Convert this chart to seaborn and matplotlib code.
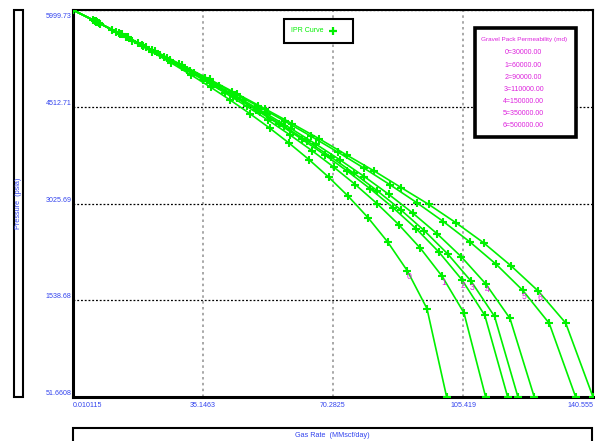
import numpy as np
import pandas as pd
import matplotlib
matplotlib.use("Agg")
import matplotlib.pyplot as plt
from matplotlib.patches import Rectangle
from matplotlib.lines import Line2D
import matplotlib.transforms as mtransforms
import seaborn as sns

sns.set_style("white")
plt.rcParams['font.family'] = ['Liberation Sans Narrow', 'Liberation Sans', 'DejaVu Sans']

# ---------------- data ----------------
curve_ids = ["0", "1", "2", "3", "4", "5", "6"]
perm_labels = ["0=30000.00", "1=60000.00", "2=90000.00", "3=110000.00",
               "4=150000.00", "5=350000.00", "6=500000.00"]

q0 = [0.010115, 5.32, 10.63, 15.95, 21.26, 26.58, 31.89, 37.21, 42.53, 47.84,
      53.16, 58.47, 63.79, 69.11, 74.42, 79.74, 85.05, 90.37, 95.68, 101.0]
p0 = [5999.73, 5847.6, 5690.6, 5528.1, 5359.8, 5185.0, 5003.1, 4813.3, 4614.5, 4405.6,
      4185.1, 3951.0, 3700.7, 3430.8, 3136.0, 2808.6, 2435.6, 1991.5, 1410.6, 51.6608]

q1 = [0.010115, 5.87, 11.74, 17.61, 23.48, 29.35, 35.22, 41.09, 46.96, 52.83,
      58.71, 64.58, 70.45, 76.32, 82.19, 88.06, 93.93, 99.80, 105.67, 111.54]
p1 = [5999.73, 5832.4, 5661.0, 5485.1, 5304.3, 5118.0, 4925.6, 4726.3, 4519.4, 4303.6,
      4077.6, 3839.5, 3586.9, 3316.6, 3023.7, 2701.0, 2336.2, 1905.0, 1345.5, 51.6608]

q2 = [0.010115, 6.18, 12.37, 18.55, 24.73, 30.92, 37.10, 43.29, 49.47, 55.65,
      61.84, 68.02, 74.20, 80.39, 86.57, 92.76, 98.94, 105.12, 111.31, 117.49]
p2 = [5999.73, 5823.8, 5644.3, 5460.7, 5272.7, 5079.7, 4881.2, 4676.5, 4464.8, 4244.9,
      4015.5, 3775.0, 3520.9, 3250.2, 2958.4, 2638.2, 2277.9, 1854.2, 1306.9, 51.6608]

q3 = [0.010115, 6.33, 12.66, 18.99, 25.32, 31.65, 37.98, 44.31, 50.64, 56.97,
      63.30, 69.63, 75.96, 82.29, 88.62, 94.95, 101.28, 107.61, 113.94, 120.27]
p3 = [5999.73, 5819.8, 5636.4, 5449.2, 5257.9, 5061.8, 4860.5, 4653.2, 4439.2, 4217.3,
      3986.4, 3744.7, 3490.0, 3219.2, 2927.8, 2609.0, 2251.0, 1831.2, 1290.5, 51.6608]

q4 = [0.010115, 6.56, 13.12, 19.69, 26.25, 32.81, 39.37, 45.93, 52.50, 59.06,
      65.62, 72.18, 78.75, 85.31, 91.87, 98.43, 104.99, 111.56, 118.12, 124.68]
p4 = [5999.73, 5813.4, 5624.0, 5431.0, 5234.2, 5033.1, 4827.1, 4615.6, 4397.9, 4172.8,
      3939.3, 3695.5, 3439.5, 3168.2, 2877.3, 2560.1, 2205.3, 1790.7, 1258.5, 51.6608]

q5 = [0.010115, 7.15, 14.30, 21.45, 28.60, 35.76, 42.91, 50.06, 57.21, 64.36,
      71.51, 78.66, 85.81, 92.96, 100.12, 107.27, 114.42, 121.57, 128.72, 135.87]
p5 = [5999.73, 5797.2, 5592.2, 5384.5, 5173.9, 4959.7, 4741.8, 4519.4, 4292.0, 4058.5,
      3818.0, 3569.0, 3309.6, 3037.2, 2747.8, 2435.3, 2089.6, 1690.4, 1184.6, 51.6608]

q6 = [0.010115, 7.40, 14.80, 22.19, 29.59, 36.99, 44.39, 51.78, 59.18, 66.58,
      73.98, 81.37, 88.77, 96.17, 103.56, 110.96, 118.36, 125.76, 133.16, 140.555]
p6 = [5999.73, 5790.5, 5579.1, 5365.3, 5150.0, 4932.0, 4710.0, 4485.0, 4255.0, 4020.0,
      3771.0, 3527.0, 3268.0, 3011.0, 2728.0, 2423.0, 2070.0, 1680.0, 1190.0, 51.6608]

label_index = 17  # point where the curve number is written

x_ticks = [0.010115, 35.1463, 70.2825, 105.419, 140.555]
x_tick_labels = ["0.010115", "35.1463", "70.2825", "105.419", "140.555"]
y_ticks = [51.6608, 1538.68, 3025.69, 4512.71, 5999.73]
y_tick_labels = ["51.6608", "1538.68", "3025.69", "4512.71", "5999.73"]

x_title = "Gas Rate  (MMscf/day)"
y_title = "Pressure  (psia)"
legend_title = "Gravel Pack Permeability (md)"
series_name = "IPR Curve"

qs = [q0, q1, q2, q3, q4, q5, q6]
ps = [p0, p1, p2, p3, p4, p5, p6]

frames = []
for cid, q, p in zip(curve_ids, qs, ps):
    frames.append(pd.DataFrame({"q": q, "P": p, "curve": cid}))
df = pd.concat(frames, ignore_index=True)

# ---------------- style ----------------
GREEN = "#00f000"
BLUE = "#3344ee"
MAGENTA = "#dd22dd"
W, H = 595, 441

fig = plt.figure(figsize=(W / 100, H / 100), dpi=100)
fig.patch.set_facecolor("white")
ax = fig.add_axes([73 / W, 1 - 397 / H, 520 / W, 387 / H])


def px_rect(x0, y0, x1, y1, lw):
    r = Rectangle((x0 / W, 1 - y1 / H), (x1 - x0) / W, (y1 - y0) / H,
                  transform=fig.transFigure, facecolor="white", edgecolor="black",
                  linewidth=lw, zorder=5)
    fig.add_artist(r)


sns.lineplot(data=df, x="q", y="P", hue="curve", units="curve", estimator=None,
             sort=False, palette=[GREEN] * 7, legend=False, ax=ax,
             marker="+", markersize=5.5, markeredgewidth=1.5, markeredgecolor=GREEN,
             linewidth=1.2, zorder=3)

ax.set_xlim(x_ticks[0], x_ticks[-1])
ax.set_ylim(y_ticks[0], y_ticks[-1])
ax.set_xticks(x_ticks)
ax.set_xticklabels(x_tick_labels)
ax.set_yticks(y_ticks)
ax.set_yticklabels(y_tick_labels)
ax.set_xlabel("")
ax.set_ylabel("")
ax.tick_params(axis="both", length=0, labelsize=5.1, labelcolor=BLUE)
ax.tick_params(axis="x", pad=3.5)
ax.tick_params(axis="y", pad=1)

xl = ax.get_xticklabels()
xl[0].set_horizontalalignment("left")
xl[-1].set_horizontalalignment("right")
yl = ax.get_yticklabels()
for t in yl[:-1]:
    t.set_verticalalignment("bottom")
yl[-1].set_verticalalignment("top")
yl[-1].set_transform(yl[-1].get_transform() +
                     mtransforms.ScaledTranslation(0, -3 / 100, fig.dpi_scale_trans))

ax.xaxis.grid(True, color="#9a9a9a", linestyle=(0, (1.5, 2.0)), linewidth=1.2)
ax.yaxis.grid(True, color="black", linestyle=(0, (1.5, 1.5)), linewidth=0.9)
ax.set_axisbelow(True)

for side, lw in [("left", 2.2), ("bottom", 2.2), ("top", 1.5), ("right", 1.5)]:
    ax.spines[side].set_visible(True)
    ax.spines[side].set_color("black")
    ax.spines[side].set_linewidth(lw)

# curve number labels
for cid, q, p in zip(curve_ids, qs, ps):
    ax.annotate(cid, (q[label_index], p[label_index]), xytext=(1.5, -6),
                textcoords="offset pixels", ha="center", va="center",
                fontsize=6.3, color=MAGENTA, zorder=6)

# axis title boxes
px_rect(14, 10, 23, 397, 1.5)
fig.text(19 / W, 1 - 203.5 / H, y_title, rotation=90, ha="center", va="center",
         fontsize=5.2, color=BLUE, zorder=6)
px_rect(73, 428, 592, 470, 1.5)
fig.text(332.5 / W, 1 - 435.5 / H, x_title, ha="center", va="center",
         fontsize=5.2, color=BLUE, zorder=6)

# IPR legend box
px_rect(284, 19, 353, 43, 1.5)
fig.text(291 / W, 1 - 31 / H, series_name, ha="left", va="center",
         fontsize=5.0, color=GREEN, zorder=6)
fig.add_artist(Line2D([332.7 / W], [1 - 31 / H], transform=fig.transFigure,
                      marker="+", markersize=6, markeredgewidth=1.6,
                      color=GREEN, zorder=6))

# gravel pack legend box
px_rect(474.5, 27.5, 576, 136.5, 2.6)
fig.text(524.5 / W, 1 - 39 / H, legend_title, ha="center", va="center",
         fontsize=4.6, color=MAGENTA, zorder=6)
for i, lab in enumerate(perm_labels):
    fig.text(523.5 / W, 1 - (53 + i * 12.1) / H, lab, ha="center", va="center",
             fontsize=5.0, color=MAGENTA, zorder=6)

fig.savefig("out.png", dpi=100, facecolor="white")
